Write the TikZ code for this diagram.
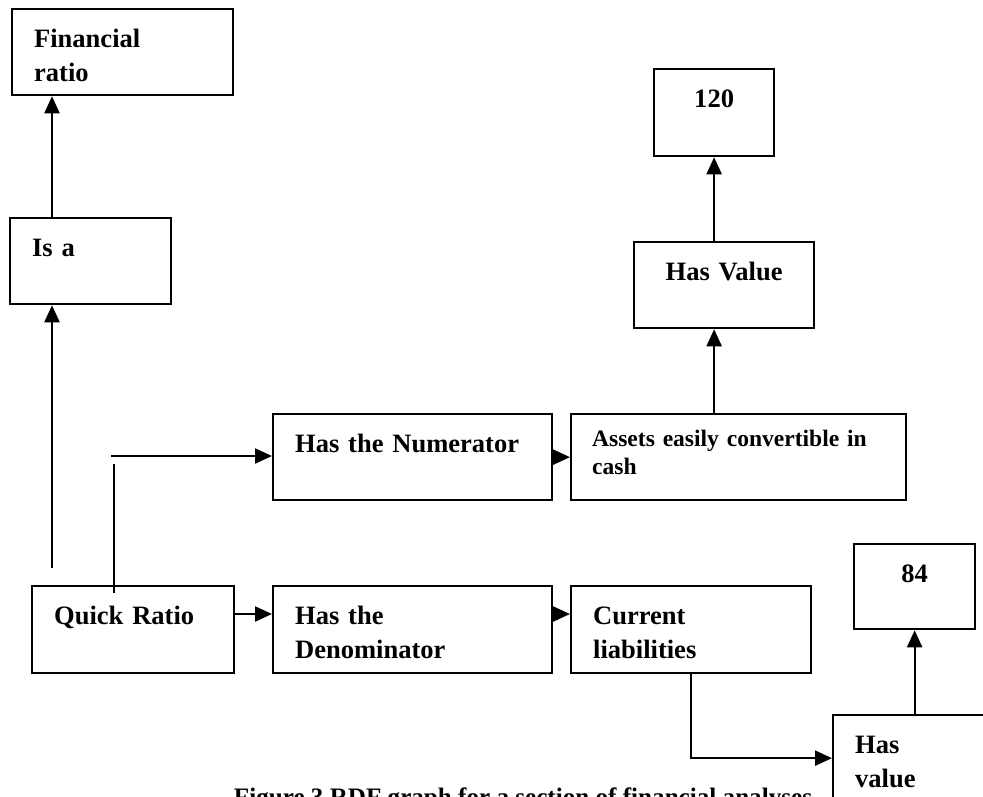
\documentclass[tikz,border=0pt]{standalone}
\usepackage{fontspec}
\setmainfont{Liberation Serif}
\usepackage{tikz}
\usetikzlibrary{arrows.meta,calc}

\tikzset{
  box/.style 2 args={draw, fill=white, line width=1.3pt, anchor=north west,
    inner xsep=0.44cm, inner ysep=0pt, align=left,
    font=\bfseries\fontsize{15.1}{19.4}\selectfont,
    text width=#1cm, text height=0.76cm, text depth=#2cm},
  valbox/.style 2 args={box={#1}{#2}, align=center},
  link/.style={line width=1.3pt},
  arr/.style={link, -{Triangle[length=0.34cm,width=0.3cm]}}
}

\begin{document}
\begin{tikzpicture}[x=0.02cm, y=-0.02cm]
\useasboundingbox (0,0) rectangle (983,796);
\clip (0,0) rectangle (983,796);
\node[anchor=base, font=\bfseries\fontsize{14.3}{17}\selectfont] (cap) at (523,805) {Figure 3 RDF graph for a section of financial analyses};
\node[box={3.54}{0.96}] (fr) at (11,8) {Financial\\ratio};
\node[box={2.34}{0.96}] (isa) at (9,217) {Is a};
\node[box={3.16}{0.98}] (qr) at (31,585) {Quick Ratio};
\node[box={4.70}{0.96}] (hn) at (272,413) {Has the Numerator};
\node[box={4.70}{0.98}] (hd) at (272,585) {Has the\\Denominator};
\node[box={5.86}{1.08}, inner xsep=0.42cm, text height=0.64cm,
  font=\bfseries\fontsize{13.4}{15.9}\selectfont] (as) at (570,413) {Assets easily convertible in\\cash};
\node[box={3.92}{0.98}] (cl) at (570,585) {Current\\liabilities};
\node[valbox={2.72}{0.96}] (hv) at (633,241) {Has Value};
\node[valbox={1.52}{0.98}] (v120) at (653,68) {120};
\node[valbox={1.54}{0.94}] (v84) at (853,543) {84};
\node[box={3.12}{0.96}] (hv2) at (832,714) {Has\\value};
\coordinate (isatail) at ($(isa.north west)+(43,0)$);
\draw[arr] (isatail) -- (isatail |- fr.south);
\coordinate (qrtail) at (52,568);
\draw[arr] (qrtail) -- (qrtail |- isa.south);
\coordinate (numtop) at (114,464);
\draw[link] ($(qr.north west)+(83,8)$) -- (numtop);
\coordinate (numtail) at (111,456);
\draw[arr] (numtail) -- (numtail -| hn.west);
\draw[arr] (hn.east) -- (as.west);
\coordinate (dentail) at ($(qr.north east)+(0,29)$);
\draw[arr] (dentail) -- (dentail -| hd.west);
\draw[arr] (dentail -| hd.east) -- (dentail -| cl.west);
\draw[arr] (v120.south |- as.north) -- (v120.south |- hv.south);
\draw[arr] (v120.south |- hv.north) -- (v120.south);
\draw[arr] (cl.south) |- (hv2.west);
\draw[arr] (v84.south |- hv2.north) -- (v84.south);
\end{tikzpicture}
\end{document}
